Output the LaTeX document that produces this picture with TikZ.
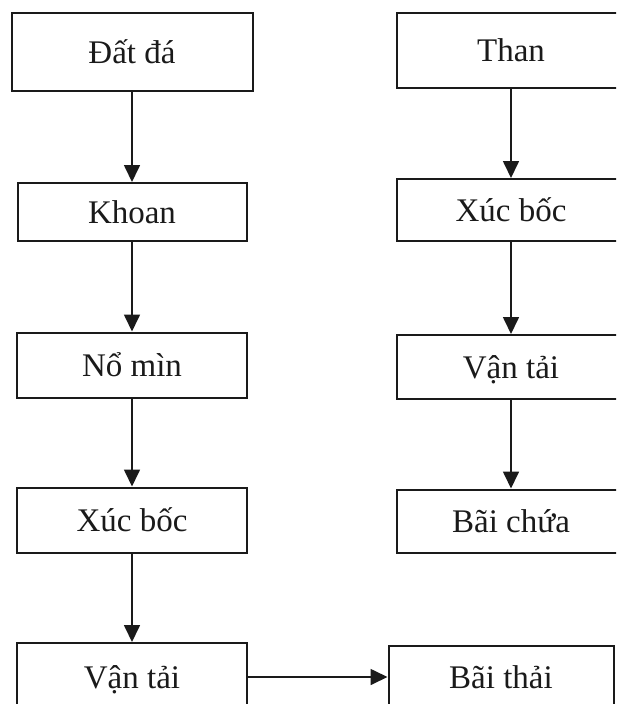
\documentclass[tikz,border=0pt]{standalone}
\usepackage{fontspec}
\setmainfont{Liberation Serif}
\usetikzlibrary{arrows.meta}
\definecolor{ink}{HTML}{1A1A1A}
\tikzset{
  stagebox/.style={draw=ink, line width=2pt, inner sep=0pt,
    text height=23pt, text depth=0pt, text=ink,
    font=\fontsize{33}{38}\selectfont},
  flow/.style={draw=ink, line width=1.7pt,
    -{Triangle[length=17pt,width=16pt]}},
}
\begin{document}
\begin{tikzpicture}[x=1pt,y=1pt]
  \useasboundingbox (0,0) rectangle (616,-704);
  \clip (0,0) rectangle (616,-704);
  % left column: overburden
  \node[stagebox, minimum width=241pt, minimum height=78pt] (dd)  at (132,-52)  {Đất đá};
  \node[stagebox, minimum width=229pt, minimum height=58pt] (kh)  at (132,-212) {Khoan};
  \node[stagebox, minimum width=230pt, minimum height=65pt] (nm)  at (132,-365) {Nổ mìn};
  \node[stagebox, minimum width=230pt, minimum height=65pt] (xb1) at (132,-520) {Xúc bốc};
  \node[stagebox, minimum width=230pt, minimum height=68pt] (vt1) at (132,-677) {Vận tải};
  % right column: coal
  \node[stagebox, minimum width=228pt, minimum height=75pt] (th)  at (511,-50)  {Than};
  \node[stagebox, minimum width=228pt, minimum height=62pt] (xb2) at (511,-210) {Xúc bốc};
  \node[stagebox, minimum width=228pt, minimum height=64pt] (vt2) at (511,-367) {Vận tải};
  \node[stagebox, minimum width=228pt, minimum height=63pt] (bc)  at (511,-521) {Bãi chứa};
  \node[stagebox, minimum width=225pt, minimum height=62pt] (bt)  at (501,-677) {Bãi thải};
  % connectors
  \draw[flow] (dd) -- (kh);
  \draw[flow] (kh) -- (nm);
  \draw[flow] (nm) -- (xb1);
  \draw[flow] (xb1) -- (vt1);
  \draw[flow] (th) -- (xb2);
  \draw[flow] (xb2) -- (vt2);
  \draw[flow] (vt2) -- (bc);
  \draw[flow] (vt1) -- (bt);
\end{tikzpicture}
\end{document}
